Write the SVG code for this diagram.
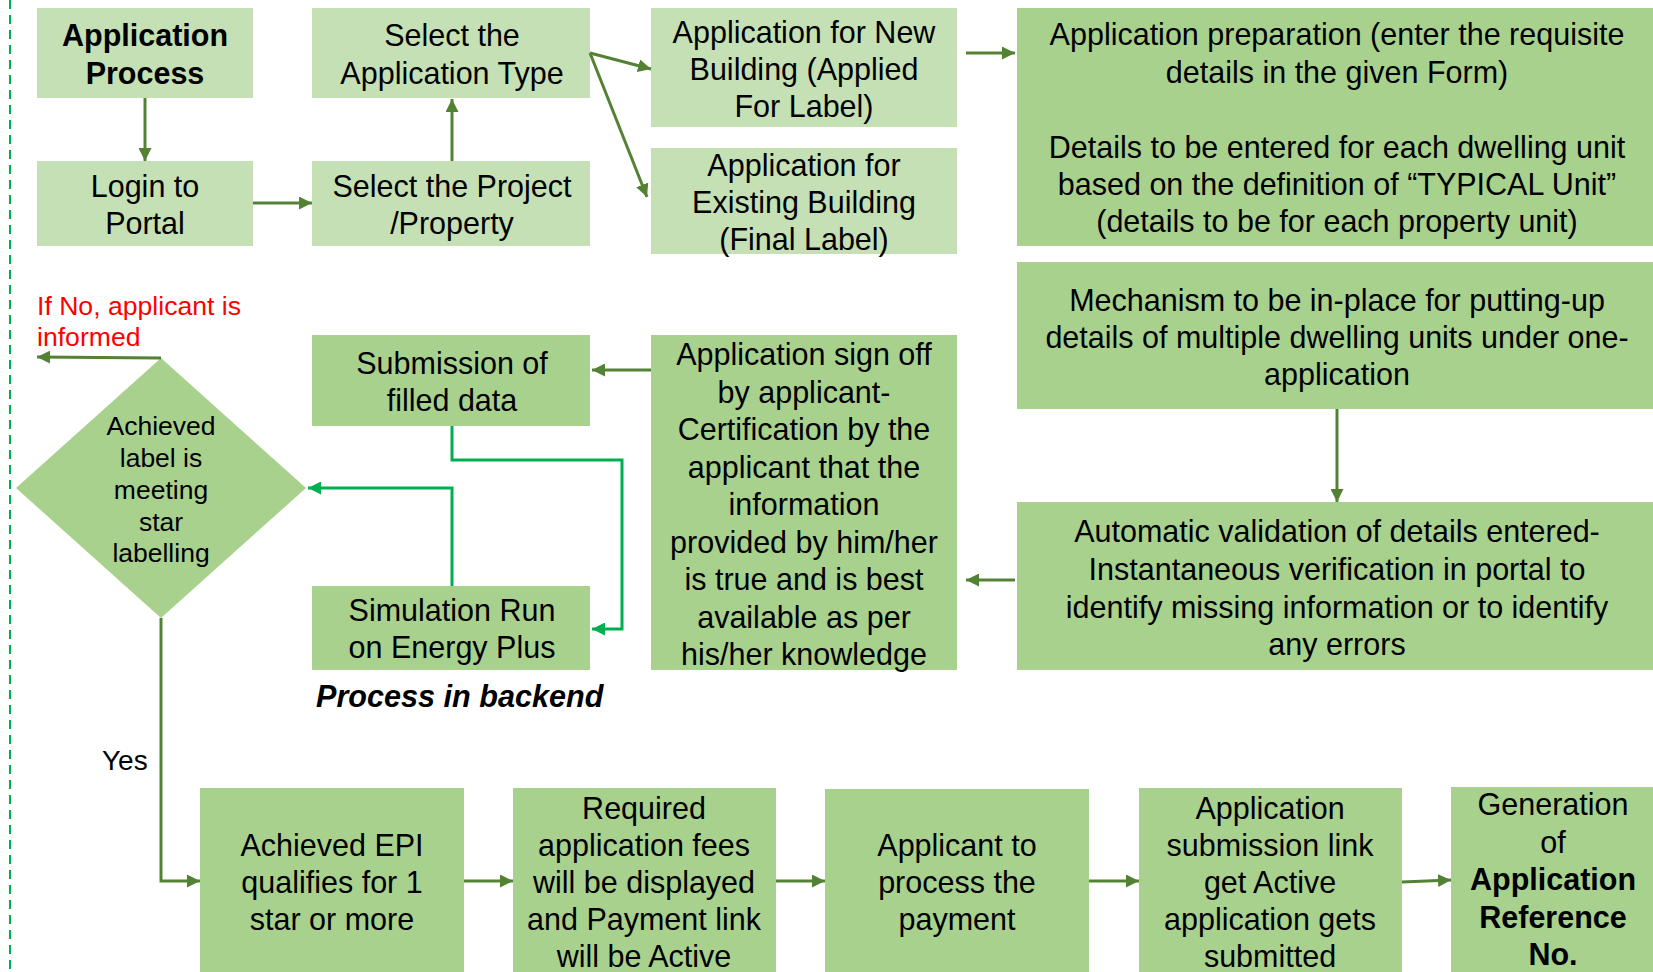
<svg xmlns="http://www.w3.org/2000/svg" width="1653" height="972" viewBox="0 0 1653 972">
<defs>
<style>
.lt{fill:#C5E0B4}
.dk{fill:#A9D18E}
text{font-family:"Liberation Sans",Arial,sans-serif;font-size:30.5px;fill:#000;text-anchor:middle}
.b{font-weight:bold}
.dia{font-size:26.5px}
.red{fill:#FF0000;font-size:26.6px;text-anchor:start}
.yes{font-size:28px;text-anchor:start}
.pb{font-weight:bold;font-style:italic;font-size:30.6px;text-anchor:start}
.c{fill:none;stroke:#548235;stroke-width:3}
.g{fill:none;stroke:#00B050;stroke-width:3}
</style>
<marker id="ah" viewBox="0 0 12 12" refX="12" refY="6" markerWidth="13" markerHeight="13" markerUnits="userSpaceOnUse" orient="auto"><path d="M0,0 L12,6 L0,12 z" fill="#548235"/></marker>
<marker id="ahg" viewBox="0 0 12 12" refX="12" refY="6" markerWidth="13" markerHeight="13" markerUnits="userSpaceOnUse" orient="auto"><path d="M0,0 L12,6 L0,12 z" fill="#00B050"/></marker>
</defs>
<rect width="1653" height="972" fill="#fff"/>
<line x1="10" y1="0" x2="10" y2="972" stroke="#00B050" stroke-width="2" stroke-dasharray="9 6"/>

<g id="n-app-process"><rect class="lt" x="37" y="8" width="216" height="90"/><text class="b" x="145" y="46">Application</text><text class="b" x="145" y="84">Process</text></g>
<g id="n-login"><rect class="lt" x="37" y="161" width="216" height="85"/><text x="145" y="197">Login to</text><text x="145" y="234">Portal</text></g>
<g id="n-select-type"><rect class="lt" x="312" y="8" width="278" height="90"/><text x="452" y="46">Select the</text><text x="452" y="84">Application Type</text></g>
<g id="n-select-project"><rect class="lt" x="312" y="161" width="278" height="85"/><text x="452" y="197">Select the Project</text><text x="452" y="234">/Property</text></g>
<g id="n-new-building"><rect class="lt" x="651" y="8" width="306" height="119"/><text x="804" y="43">Application for New</text><text x="804" y="80">Building (Applied</text><text x="804" y="117">For Label)</text></g>
<g id="n-existing-building"><rect class="lt" x="651" y="148" width="306" height="106"/><text x="804" y="176">Application for</text><text x="804" y="213">Existing Building</text><text x="804" y="250">(Final Label)</text></g>
<g id="n-app-prep"><rect class="dk" x="1017" y="8" width="636" height="238"/><text x="1337" y="45">Application preparation (enter the requisite</text><text x="1337" y="83">details in the given Form)</text><text x="1337" y="158">Details to be entered for each dwelling unit</text><text x="1337" y="195">based on the definition of “TYPICAL Unit”</text><text x="1337" y="232">(details to be for each property unit)</text></g>
<g id="n-mechanism"><rect class="dk" x="1017" y="262" width="636" height="147"/><text x="1337" y="311">Mechanism to be in-place for putting-up</text><text x="1337" y="348">details of multiple dwelling units under one-</text><text x="1337" y="385">application</text></g>
<g id="n-auto-validation"><rect class="dk" x="1017" y="502" width="636" height="168"/><text x="1337" y="542">Automatic validation of details entered-</text><text x="1337" y="580">Instantaneous verification in portal to</text><text x="1337" y="618">identify missing information or to identify</text><text x="1337" y="655">any errors</text></g>
<g id="n-sign-off"><rect class="dk" x="651" y="335" width="306" height="335"/><text x="804" y="365">Application sign off</text><text x="804" y="403">by applicant-</text><text x="804" y="440">Certification by the</text><text x="804" y="478">applicant that the</text><text x="804" y="515">information</text><text x="804" y="553">provided by him/her</text><text x="804" y="590">is true and is best</text><text x="804" y="628">available as per</text><text x="804" y="665">his/her knowledge</text></g>
<g id="n-submission"><rect class="dk" x="312" y="335" width="278" height="91"/><text x="452" y="374">Submission of</text><text x="452" y="411">filled data</text></g>
<g id="n-simulation"><rect class="dk" x="312" y="586" width="278" height="84"/><text x="452" y="621">Simulation Run</text><text x="452" y="658">on Energy  Plus</text></g>
<g id="n-decision"><polygon class="dk" points="161,358 306,488 161,618 16,488"/><text class="dia" x="161" y="435">Achieved</text><text class="dia" x="161" y="467">label is</text><text class="dia" x="161" y="499">meeting</text><text class="dia" x="161" y="531">star</text><text class="dia" x="161" y="562">labelling</text></g>
<g id="n-epi"><rect class="dk" x="200" y="788" width="264" height="184"/><text x="332" y="856">Achieved EPI</text><text x="332" y="893">qualifies for 1</text><text x="332" y="930">star or more</text></g>
<g id="n-fees"><rect class="dk" x="513" y="788" width="263" height="184"/><text x="644" y="819">Required</text><text x="644" y="856">application fees</text><text x="644" y="893">will be displayed</text><text x="644" y="930">and Payment link</text><text x="644" y="967">will be Active</text></g>
<g id="n-payment"><rect class="dk" x="825" y="789" width="264" height="183"/><text x="957" y="856">Applicant to</text><text x="957" y="893">process the</text><text x="957" y="930">payment</text></g>
<g id="n-submit-link"><rect class="dk" x="1139" y="788" width="263" height="184"/><text x="1270" y="819">Application</text><text x="1270" y="856">submission link</text><text x="1270" y="893">get Active</text><text x="1270" y="930">application gets</text><text x="1270" y="967">submitted</text></g>
<g id="n-generation"><rect class="dk" x="1451" y="787" width="202" height="185"/><text x="1553" y="815">Generation</text><text x="1553" y="853">of</text><text class="b" x="1553" y="890">Application</text><text class="b" x="1553" y="928">Reference</text><text class="b" x="1553" y="965">No.</text></g>

<g id="labels">
<text class="red" x="37" y="315">If No, applicant is</text>
<text class="red" x="37" y="346">informed</text>
<text class="yes" x="102" y="770">Yes</text>
<text class="pb" x="316" y="707">Process in backend</text>
</g>

<g id="connectors">
<line class="c" x1="145" y1="98" x2="145" y2="161" marker-end="url(#ah)"/>
<line class="c" x1="253" y1="203" x2="312" y2="203" marker-end="url(#ah)"/>
<line class="c" x1="452" y1="161" x2="452" y2="99" marker-end="url(#ah)"/>
<line class="c" x1="590" y1="53" x2="651" y2="69" marker-end="url(#ah)"/>
<line class="c" x1="590" y1="53" x2="647" y2="197" marker-end="url(#ah)"/>
<line class="c" x1="966" y1="53" x2="1015" y2="53" marker-end="url(#ah)"/>
<line class="c" x1="1337" y1="409" x2="1337" y2="502" marker-end="url(#ah)"/>
<line class="c" x1="1015" y1="580" x2="966" y2="580" marker-end="url(#ah)"/>
<line class="c" x1="651" y1="370" x2="592" y2="370" marker-end="url(#ah)"/>
<polyline class="g" points="452,426 452,460 622,460 622,629 592,629" marker-end="url(#ahg)"/>
<polyline class="g" points="452,586 452,488 308,488" marker-end="url(#ahg)"/>
<line class="c" x1="161" y1="358" x2="37" y2="357" marker-end="url(#ah)"/>
<polyline class="c" points="161,618 161,881 200,881" marker-end="url(#ah)"/>
<line class="c" x1="464" y1="881" x2="513" y2="881" marker-end="url(#ah)"/>
<line class="c" x1="776" y1="881" x2="825" y2="881" marker-end="url(#ah)"/>
<line class="c" x1="1089" y1="881" x2="1139" y2="881" marker-end="url(#ah)"/>
<line class="c" x1="1402" y1="882" x2="1451" y2="880" marker-end="url(#ah)"/>
</g>
</svg>
